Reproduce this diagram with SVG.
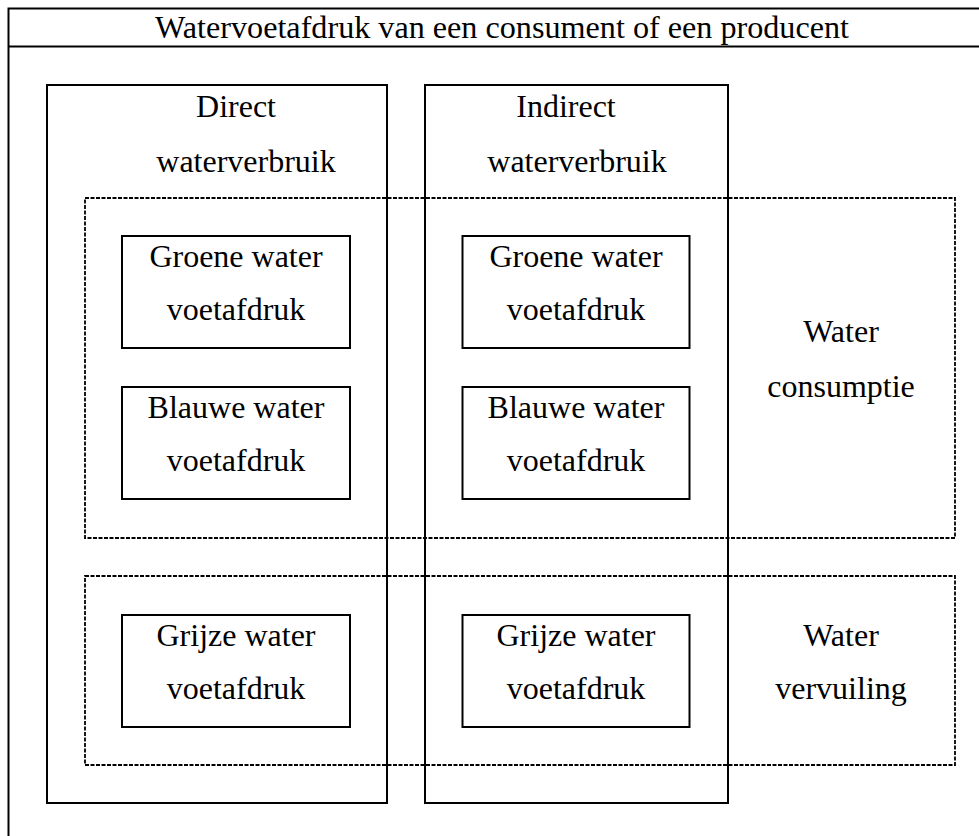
<svg xmlns="http://www.w3.org/2000/svg" width="979" height="836" viewBox="0 0 979 836">
<style>
.s{fill:none;stroke:#000;stroke-width:2}
.d{fill:none;stroke:#000;stroke-width:1.8;stroke-dasharray:4 1.5}
text{font-family:"Liberation Serif","Times New Roman",serif;font-size:32px;fill:#000;text-anchor:middle}
</style>
<rect width="979" height="836" fill="#fff"/>
<g id="frame">
<path class="s" d="M8.5,836 V8.5 H979 M8.5,46.5 H979"/>
<text x="502" y="38" textLength="694" lengthAdjust="spacingAndGlyphs">Watervoetafdruk van een consument of een producent</text>
</g>
<g id="direct">
<rect class="s" x="47" y="85" width="340" height="718"/>
<text x="236" y="117">Direct</text>
<text x="246" y="172">waterverbruik</text>
</g>
<g id="indirect">
<rect class="s" x="425" y="85" width="303" height="718"/>
<text x="566" y="117">Indirect</text>
<text x="577" y="172">waterverbruik</text>
</g>
<g id="consumptie">
<rect class="d" x="85" y="198" width="870" height="340"/>
<text x="841" y="342">Water</text>
<text x="841" y="397">consumptie</text>
</g>
<g id="vervuiling">
<rect class="d" x="85" y="576" width="870" height="189"/>
<text x="841" y="646">Water</text>
<text x="841" y="699">vervuiling</text>
</g>
<g id="groen-direct">
<rect class="s" x="122" y="236" width="228" height="112"/>
<text x="236" y="267">Groene water</text>
<text x="236" y="320">voetafdruk</text>
</g>
<g id="blauw-direct">
<rect class="s" x="122" y="387" width="228" height="112"/>
<text x="236" y="418">Blauwe water</text>
<text x="236" y="471">voetafdruk</text>
</g>
<g id="grijs-direct">
<rect class="s" x="122" y="615" width="228" height="112"/>
<text x="236" y="646">Grijze water</text>
<text x="236" y="699">voetafdruk</text>
</g>
<g id="groen-indirect">
<rect class="s" x="462.5" y="236" width="227" height="112"/>
<text x="576" y="267">Groene water</text>
<text x="576" y="320">voetafdruk</text>
</g>
<g id="blauw-indirect">
<rect class="s" x="462.5" y="387" width="227" height="112"/>
<text x="576" y="418">Blauwe water</text>
<text x="576" y="471">voetafdruk</text>
</g>
<g id="grijs-indirect">
<rect class="s" x="462.5" y="615" width="227" height="112"/>
<text x="576" y="646">Grijze water</text>
<text x="576" y="699">voetafdruk</text>
</g>
<g id="connectors"/>
</svg>
